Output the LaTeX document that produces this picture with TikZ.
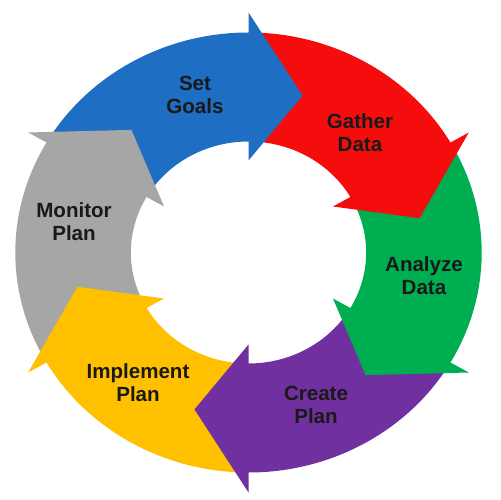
\documentclass[tikz,border=0pt]{standalone}
\usepackage{fontspec}
\setsansfont{Liberation Sans}
\usepackage{tikz}
\usetikzlibrary{calc}
\definecolor{goalblue}{RGB}{30,110,195}
\definecolor{gatherred}{RGB}{245,12,12}
\definecolor{analyzegreen}{RGB}{0,174,82}
\definecolor{createpurple}{RGB}{112,48,160}
\definecolor{implyellow}{RGB}{255,192,0}
\definecolor{monitorgray}{RGB}{166,166,166}

\begin{document}
\begin{tikzpicture}[x=0.02cm, y=0.02cm, line join=round,
    steplabel/.style={align=center, text=black!90, font=\sffamily\bfseries\fontsize{11.7}{13.1}\selectfont}]
  \useasboundingbox (-248.5,-247.5) rectangle (251.5,252.5);
  \begin{scope}[xscale=1.06]
  %--- Ring segments (both ends tucked under a head)
    \fill[goalblue] (87:220) arc[start angle=87, end angle=148, radius=220] -- (148:111) arc[start angle=148, end angle=87, radius=111] -- cycle;
    \fill[gatherred] (27:220) arc[start angle=27, end angle=88, radius=220] -- (88:111) arc[start angle=88, end angle=27, radius=111] -- cycle;
    \fill[analyzegreen] (-33:220) arc[start angle=-33, end angle=28, radius=220] -- (28:111) arc[start angle=28, end angle=-33, radius=111] -- cycle;
    \fill[createpurple] (-93:220) arc[start angle=-93, end angle=-32, radius=220] -- (-32:111) arc[start angle=-32, end angle=-93, radius=111] -- cycle;
    \fill[implyellow] (-153:220) arc[start angle=-153, end angle=-92, radius=220] -- (-92:111) arc[start angle=-92, end angle=-153, radius=111] -- cycle;
    \fill[monitorgray] (147:220) arc[start angle=147, end angle=208, radius=220] -- (208:111) arc[start angle=208, end angle=147, radius=111] -- cycle;
  %--- Arrow heads
    \fill[goalblue] (90:240) -- (72:165) -- (90:92) -- cycle;
    \fill[gatherred] (30:240) -- (12:165) -- (30:92) -- cycle;
    \fill[analyzegreen] (-30:240) -- (-48:165) -- (-30:92) -- cycle;
    \fill[createpurple] (-90:240) -- (-108:165) -- (-90:92) -- cycle;
    \fill[implyellow] (-150:240) -- (-168:165) -- (-150:92) -- cycle;
    \fill[monitorgray] (150:240) -- (132:165) -- (150:92) -- cycle;
  \end{scope}
  %--- Labels
    \node[steplabel] (setgoals) at (-53.5, 157.5) {Set\\Goals};
    \node[steplabel] (gatherdata) at (111.5, 119.5) {Gather\\Data};
    \node[steplabel] (analyzedata) at (175.5, -23.5) {Analyze\\Data};
    \node[steplabel] (createplan) at (67.5, -152.5) {Create\\Plan};
    \node[steplabel] (implementplan) at (-110.5, -130.5) {Implement\\Plan};
    \node[steplabel] (monitorplan) at (-174.5, 30.5) {Monitor\\Plan};
\end{tikzpicture}
\end{document}
